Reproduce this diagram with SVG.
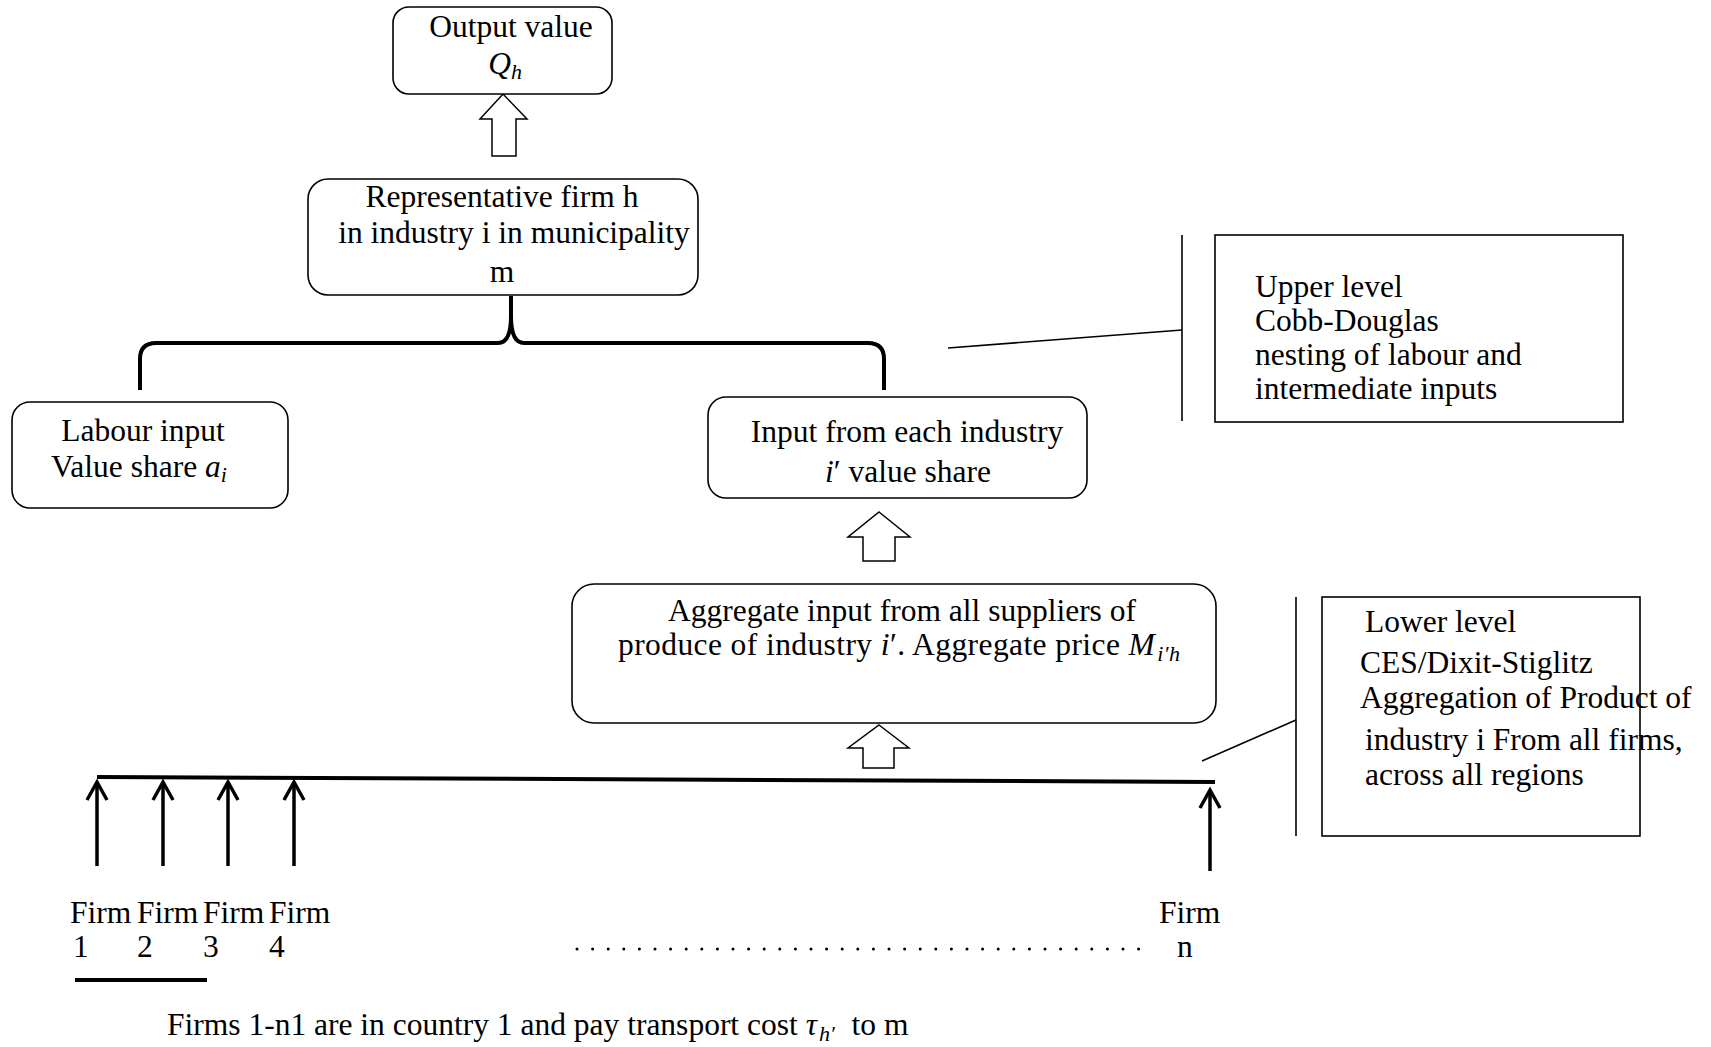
<svg xmlns="http://www.w3.org/2000/svg" width="1711" height="1047" viewBox="0 0 1711 1047">
<style>
  .t { font-family: "Liberation Serif", "Times New Roman", serif; font-size: 31.5px; fill: #000; }
  .m { font-style: italic; }
  .c { text-anchor: middle; }
  .box { fill: #fff; stroke: #000; stroke-width: 1.6; }
  .hollow { fill: #fff; stroke: #000; stroke-width: 1.5; stroke-linejoin: miter; }
  .thin { fill: none; stroke: #000; stroke-width: 1.6; }
  .thick { fill: none; stroke: #000; stroke-width: 4; }
  .farrow { fill: none; stroke: #000; stroke-width: 3.5; }
</style>
<defs>
  <marker id="chev" markerUnits="userSpaceOnUse" markerWidth="26" markerHeight="26" viewBox="-22 -13 26 26" refX="0" refY="0" orient="auto">
    <polyline points="-18,-10 0,0 -18,10" fill="none" stroke="#000" stroke-width="3.5"/>
  </marker>
</defs>
<rect width="1711" height="1047" fill="#fff"/>

<g id="connectors">
  <!-- hollow block arrows -->
  <polygon class="hollow" points="503,94 527,119 516,119 516,156 492,156 492,119 480,119"/>
  <polygon class="hollow" points="879,512 910,537 895,537 895,561 863,561 863,537 848,537"/>
  <polygon class="hollow" points="879,725 909,748 894,748 894,768 863,768 863,748 848,748"/>
  <!-- brace -->
  <path class="thick" d="M140,390 V359 Q140,343 156,343 H498 Q511,343 511,316 V296 M511,316 Q511,343 524,343 H868 Q884,343 884,359 V390"/>
  <!-- annotation lines -->
  <line class="thin" x1="1182" y1="235" x2="1182" y2="421"/>
  <line class="thin" x1="948" y1="348" x2="1182" y2="330"/>
  <line class="thin" x1="1296" y1="597" x2="1296" y2="836"/>
  <line class="thin" x1="1202" y1="761" x2="1296" y2="720"/>
  <!-- firm bar -->
  <line class="thick" x1="97" y1="777" x2="1215" y2="782"/>
  <line class="farrow" x1="97" y1="866" x2="97" y2="782" marker-end="url(#chev)"/>
  <line class="farrow" x1="163" y1="866" x2="163" y2="782" marker-end="url(#chev)"/>
  <line class="farrow" x1="228" y1="866" x2="228" y2="782" marker-end="url(#chev)"/>
  <line class="farrow" x1="294" y1="866" x2="294" y2="782" marker-end="url(#chev)"/>
  <line class="farrow" x1="1210" y1="871" x2="1210" y2="790" marker-end="url(#chev)"/>
  <!-- underline -->
  <line class="thick" x1="75" y1="980" x2="207" y2="980"/>
  <!-- dots -->
  <line x1="577" y1="949" x2="1140" y2="949" stroke="#000" stroke-width="3" stroke-linecap="round" stroke-dasharray="0 15.6"/>
</g>

<g id="output">
  <rect class="box" x="393" y="7" width="219" height="87" rx="16"/>
  <text class="t c" x="511" y="37">Output value</text>
  <text class="t c" x="505" y="74"><tspan class="m">Q</tspan><tspan class="m" font-size="22" dy="5">h</tspan></text>
</g>

<g id="representative">
  <rect class="box" x="308" y="179" width="390" height="116" rx="20"/>
  <text class="t c" x="502" y="207">Representative firm h</text>
  <text class="t c" x="514" y="243">in industry i in municipality</text>
  <text class="t c" x="502" y="282">m</text>
</g>

<g id="labour">
  <rect class="box" x="12" y="402" width="276" height="106" rx="18"/>
  <text class="t c" x="143" y="441">Labour input</text>
  <text class="t c" x="139" y="477">Value share <tspan class="m">a</tspan><tspan class="m" font-size="22" dy="5">i</tspan></text>
</g>

<g id="input">
  <rect class="box" x="708" y="397" width="379" height="101" rx="18"/>
  <text class="t c" x="907" y="442">Input from each industry</text>
  <text class="t c" x="908" y="482"><tspan class="m">i</tspan>′ value share</text>
</g>

<g id="aggregate">
  <rect class="box" x="572" y="584" width="644" height="139" rx="22"/>
  <text class="t c" x="902" y="621">Aggregate input from all suppliers of</text>
  <text class="t c" x="899" y="655" textLength="562">produce of industry <tspan class="m">i</tspan>′. Aggregate price <tspan class="m">M</tspan><tspan class="m" font-size="22" dy="6" dx="2">i′h</tspan></text>
</g>

<g id="upper-level">
  <rect class="box" x="1215" y="235" width="408" height="187" rx="0"/>
  <text class="t" x="1255" y="297">Upper level</text>
  <text class="t" x="1255" y="331">Cobb-Douglas</text>
  <text class="t" x="1255" y="365">nesting of labour and</text>
  <text class="t" x="1255" y="399">intermediate inputs</text>
</g>

<g id="lower-level">
  <rect class="box" x="1322" y="597" width="318" height="239" rx="0"/>
  <text class="t" x="1365" y="632">Lower level</text>
  <text class="t" x="1360" y="673">CES/Dixit-Stiglitz</text>
  <text class="t" x="1360" y="708">Aggregation of Product of</text>
  <text class="t" x="1365" y="750">industry i From all firms,</text>
  <text class="t" x="1365" y="785">across all regions</text>
</g>

<g id="firms">
  <text class="t" x="70" y="923">Firm</text>
  <text class="t" x="137" y="923">Firm</text>
  <text class="t" x="203" y="923">Firm</text>
  <text class="t" x="269" y="923">Firm</text>
  <text class="t" x="73" y="957">1</text>
  <text class="t" x="137" y="957">2</text>
  <text class="t" x="203" y="957">3</text>
  <text class="t" x="269" y="957">4</text>
  <text class="t" x="1159" y="923">Firm</text>
  <text class="t" x="1177" y="957">n</text>
</g>

<g id="caption">
  <text class="t" x="167" y="1035">Firms 1-n1 are in country 1 and pay transport cost <tspan class="m">τ</tspan><tspan class="m" font-size="22" dy="6" dx="2">h′</tspan><tspan dy="-6" dx="9"> to m</tspan></text>
</g>
</svg>
